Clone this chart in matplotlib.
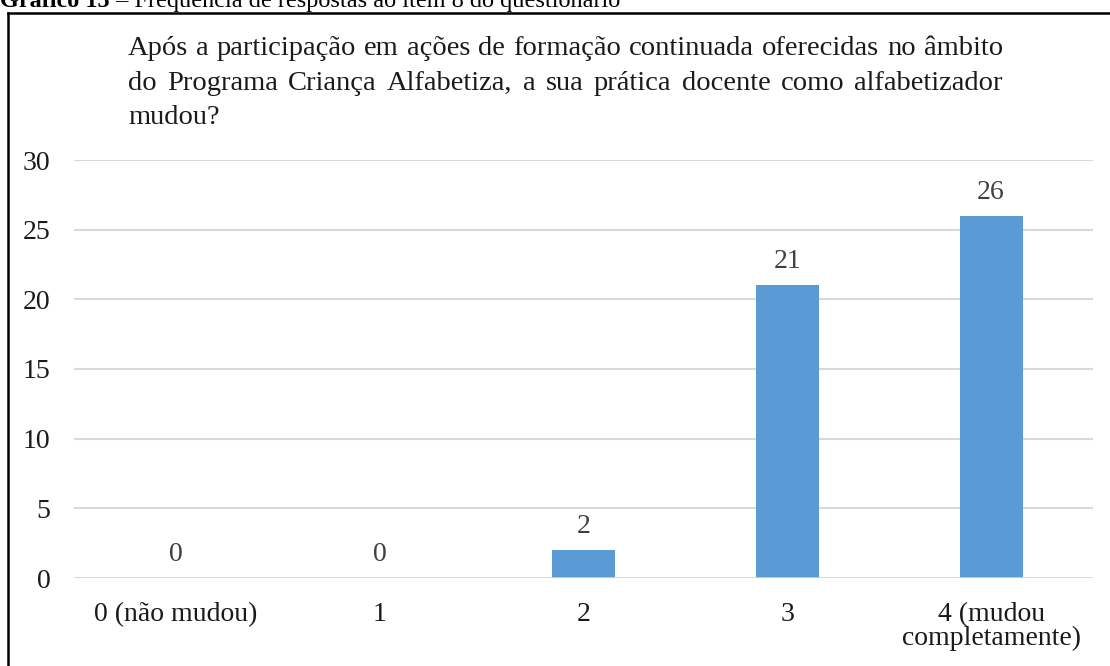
import matplotlib
matplotlib.use("Agg")
import matplotlib.pyplot as plt
from matplotlib.lines import Line2D

categories = ["0 (não mudou)", "1", "2", "3", "4 (mudou\ncompletamente)"]
values = [0, 0, 2, 21, 26]
yticks = [0, 5, 10, 15, 20, 25, 30]
title_lines = [
    "Após a participação em ações de formação continuada oferecidas no âmbito",
    "do Programa Criança Alfabetiza, a sua prática docente como alfabetizador",
    "mudou?",
]
caption_bold = "Gráfico 15"
caption_rest = " – Frequência de respostas ao item 8 do questionário"

plt.rcParams['font.family'] = ['Liberation Serif', 'DejaVu Serif']

W, H = 1110, 666
fig = plt.figure(figsize=(W / 100, H / 100), dpi=100)

def fx(px):
    return px / W

def fy(py):
    return 1 - py / H

ax = fig.add_axes([fx(74), fy(578), fx(1093) - fx(74), fy(160) - fy(578)])
x = list(range(len(categories)))
bars = ax.bar(x, values, width=0.31, color="#5b9bd5", zorder=3)
ax.set_xlim(-0.5, len(categories) - 0.5)
ax.set_ylim(0, 30)
ax.set_yticks(yticks)
ax.set_yticklabels([str(t) for t in yticks], fontsize=20, color="#1a1a1a")
ax.set_xticks(x)
ax.set_xticklabels(categories, fontsize=20, color="#1a1a1a", linespacing=0.95)
ax.tick_params(axis='both', length=0)
ax.tick_params(axis='y', pad=17)
ax.tick_params(axis='x', pad=17)
ax.grid(axis='y', color="#d9d9d9", linewidth=1.5, zorder=0)
for s in ax.spines.values():
    s.set_visible(False)
ax.axhline(0, color="#d9d9d9", linewidth=1.8, zorder=4)

for xi, v in zip(x, values):
    ax.annotate(str(v), (xi, v), xytext=(0, 8), textcoords="offset points",
                ha="center", va="bottom", fontsize=20, color="#404040")

# Justified title text
fig.canvas.draw()
renderer = fig.canvas.get_renderer()
x0, x1 = 128, 1003
baselines = [55, 90, 124]
tsize = 20.5
for li, (line, base) in enumerate(zip(title_lines, baselines)):
    words = line.split(" ")
    if li == len(title_lines) - 1:
        fig.text(fx(x0), fy(base), line, fontsize=tsize, ha="left",
                 va="baseline", color="#1a1a1a")
        continue
    widths = []
    for w in words:
        t = fig.text(0, 0, w, fontsize=tsize)
        widths.append(t.get_window_extent(renderer).width)
        t.remove()
    gap = (x1 - x0 - sum(widths)) / (len(words) - 1)
    cx = x0
    for w, wd in zip(words, widths):
        fig.text(fx(cx), fy(base), w, fontsize=tsize, ha="left",
                 va="baseline", color="#1a1a1a")
        cx += wd + gap

# Caption (cut off at top, as in the reference)
csize = 17.5
tb = fig.text(fx(0), fy(7), caption_bold, fontsize=csize, fontweight="bold",
              ha="left", va="baseline", color="black")
bw = tb.get_window_extent(renderer).width
fig.text(fx(bw), fy(7), caption_rest, fontsize=csize, ha="left",
         va="baseline", color="black")

# Frame box (left and top visible)
fig.add_artist(Line2D([fx(8), fx(8)], [fy(12.5), fy(670)], color="black",
                      linewidth=1.8, transform=fig.transFigure))
fig.add_artist(Line2D([fx(8), fx(1115)], [fy(12.5), fy(12.5)], color="black",
                      linewidth=1.8, transform=fig.transFigure))

fig.savefig("out.png", dpi=100)
